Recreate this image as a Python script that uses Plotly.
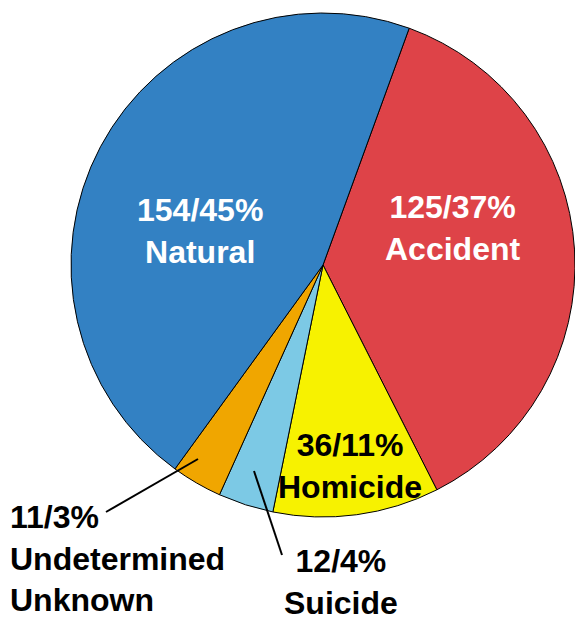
import plotly.graph_objects as go

# Manner of death, in clockwise drawing order from the top
categories = ["Accident", "Homicide", "Suicide", "Undetermined", "Natural"]
counts = [125, 36, 12, 11, 154]
shown_pct = [37, 11, 4, 3, 45]
label_names = ["Accident", "Homicide", "Suicide", "Undetermined<br>Unknown", "Natural"]
colors = ["#DE4348", "#F7F200", "#7CC9E5", "#F0A600", "#3381C3"]
text_colors = ["white", "black", "black", "black", "white"]

W, H = 575, 620
FONT = "Liberation Sans"

fig = go.Figure(
    go.Pie(
        labels=categories,
        values=counts,
        sort=False,
        direction="clockwise",
        rotation=20,
        marker=dict(colors=colors, line=dict(color="black", width=1)),
        textinfo="none",
        hoverinfo="label+value+percent",
        domain=dict(x=[71 / W, 1.0], y=[1 - 517 / H, 1 - 13 / H]),
        showlegend=False,
    )
)

def px(x, y):
    return x / W, 1 - y / H

# label anchor (pixel centre), alignment, and optional leader line
placements = {
    "Accident": dict(pos=(452, 228), align="center"),
    "Homicide": dict(pos=(350, 466), align="center"),
    "Suicide": dict(pos=(341, 582), align="center", leader=((254, 471), (282, 555))),
    "Undetermined": dict(pos=(8, 558), align="left", leader=((198, 459), (106, 512))),
    "Natural": dict(pos=(200, 231), align="center"),
}

for cat, n, p, name, tc in zip(categories, counts, shown_pct, label_names, text_colors):
    cfg = placements[cat]
    x, y = px(*cfg["pos"])
    fig.add_annotation(
        x=x, y=y, xref="paper", yref="paper",
        text=f"<b>{n}/{p}%<br>{name}</b>",
        showarrow=False,
        xanchor="left" if cfg["align"] == "left" else "center",
        yanchor="middle",
        align=cfg["align"],
        font=dict(family=FONT, size=32, color=tc),
    )
    if "leader" in cfg:
        (x0, y0), (x1, y1) = cfg["leader"]
        a0, b0 = px(x0, y0)
        a1, b1 = px(x1, y1)
        fig.add_shape(type="line", xref="paper", yref="paper",
                      x0=a0, y0=b0, x1=a1, y1=b1,
                      line=dict(color="black", width=2))

fig.update_layout(
    width=W, height=H,
    margin=dict(l=0, r=0, t=0, b=0),
    paper_bgcolor="white",
    plot_bgcolor="white",
)

fig.write_html("out.html")
